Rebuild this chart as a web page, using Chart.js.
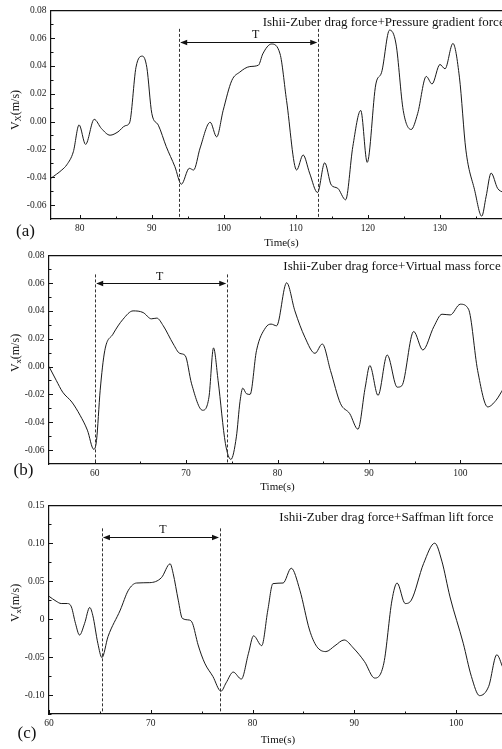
<!DOCTYPE html>
<html>
<head>
<meta charset="utf-8">
<script src="https://cdn.jsdelivr.net/npm/chart.js@4.4.1/dist/chart.umd.min.js"></script>
<style>
  html, body { margin: 0; padding: 0; background: #fff; }
  body { width: 502px; height: 749px; overflow: hidden; position: relative; }
  .panel { position: absolute; left: 0; width: 530px; height: 254px; }
  .panel canvas { display: block; }
</style>
</head>
<body>
<div class="panel" style="top:0px"><canvas id="chartA" width="530" height="254"></canvas></div>
<div class="panel" style="top:245px"><canvas id="chartB" width="530" height="254"></canvas></div>
<div class="panel" style="top:495px"><canvas id="chartC" width="530" height="254"></canvas></div>
<script>
// ---- data ----
// (a) Ishii-Zuber drag force + Pressure gradient force
const timeA = [76.0, 77.5, 78.2, 79.1, 79.9, 80.8, 82.0, 83.0, 84.2, 85.3, 86.3, 86.9, 87.8, 88.7, 89.3,
  90.0, 90.9, 92.0, 93.2, 94.1, 95.2, 95.8, 96.7, 98.1, 99.0, 99.9, 101.1, 102.2, 103.6, 104.8,
  105.4, 106.6, 107.8, 108.7, 110.1, 111.0, 111.9, 113.0, 114.0, 114.9, 115.8, 116.9, 117.9, 119.0,
  119.9, 121.1, 121.9, 123.0, 123.9, 124.9, 126.0, 126.9, 128.1, 128.9, 130.0, 130.7, 131.8, 132.7,
  133.6, 134.8, 135.8, 136.4, 137.1, 138.0, 138.8];
const velA = [-0.0407, -0.0348, -0.031, -0.0217, -0.0024, -0.0164, 0.0016, -0.005, -0.0098, -0.0074, -0.003, -0.001, 0.039, 0.047, 0.039,
  0.0057, -0.0026, -0.018, -0.0324, -0.045, -0.0336, -0.0348, -0.019, -0.0005, -0.011, 0.008, 0.0295, 0.0355, 0.0395, 0.0405,
  0.0486, 0.0557, 0.0486, 0.0152, -0.0348, -0.024, -0.037, -0.051, -0.0296, -0.0455, -0.0479, -0.0562, -0.018, 0.008,
  -0.0293, 0.027, 0.0354, 0.0657, 0.0557, 0.008, -0.0057, 0.0057, 0.0324, 0.027, 0.041, 0.0379, 0.0561, 0.0319,
  -0.0205, -0.049, -0.068, -0.054, -0.037, -0.048, -0.051];

// (b) Ishii-Zuber drag force + Virtual mass force
const timeB = [55.0, 55.8, 56.5, 57.5, 58.4, 59.2, 59.9, 60.2, 60.6, 61.1, 62.0, 63.1, 64.2, 65.3, 66.2,
  66.8, 67.5, 68.6, 69.3, 69.9, 70.6, 71.8, 72.5, 73.0, 73.5, 74.3, 74.9, 75.5, 75.9, 76.2, 76.6, 77.0,
  77.7, 78.7, 79.3, 79.9, 81.0, 81.9, 83.0, 84.1, 84.9, 85.8, 86.9, 87.9, 88.8, 89.6, 90.1, 91.0,
  92.0, 93.1, 93.6, 94.9, 95.9, 97.1, 98.0, 98.9, 100.0, 100.9, 101.9, 103.0, 103.9, 104.7];
const velB = [0.0, -0.01, -0.0184, -0.0255, -0.035, -0.0457, -0.0595, -0.053, -0.017, 0.0114, 0.0233, 0.034, 0.040, 0.0388, 0.0343,
  0.0348, 0.0293, 0.0162, 0.0095, 0.0079, -0.0124, -0.0314, -0.022, 0.0134, -0.01, -0.0552, -0.0667, -0.0505, -0.025, -0.0155, -0.0195, -0.020,
  0.0114, 0.028, 0.0305, 0.0293, 0.0602, 0.040, 0.021, 0.0095, 0.0162, -0.0029, -0.0267, -0.0338, -0.045, -0.0148, 0.0007, -0.0207,
  0.0083, -0.0148, -0.0138, 0.0252, 0.0119, 0.0286, 0.0376, 0.0371, 0.0448, 0.0412, -0.0029, -0.029, -0.0243, -0.016];

// (c) Ishii-Zuber drag force + Saffman lift force
const timeC = [60.0, 60.7, 61.2, 61.8, 62.2, 62.6, 63.0, 63.5, 64.0, 64.3, 64.8, 65.2, 65.8, 67.0, 67.8,
  68.6, 69.9, 71.05, 71.9, 72.2, 72.7, 73.1, 73.8, 74.1, 74.65, 75.3, 76.1, 76.9, 77.4, 78.1, 78.9,
  79.6, 80.1, 80.9, 81.5, 82.0, 83.0, 83.8, 84.65, 85.6, 86.3, 87.2, 88.1, 89.0, 89.9, 91.0, 92.0,
  92.9, 93.7, 94.2, 95.0, 95.6, 96.8, 97.9, 98.6, 99.4, 100.7, 101.5, 102.3, 103.2, 104.0, 104.6];
const velC = [0.030, 0.0236, 0.0205, 0.0205, 0.016, -0.0056, -0.021, -0.0056, 0.0153, 0.005, -0.032, -0.0507, -0.023, 0.0118, 0.038,
  0.0475, 0.048, 0.0546, 0.0728, 0.060, 0.0249, 0.001, -0.0013, -0.0056, -0.034, -0.058, -0.0755, -0.095, -0.084, -0.0698, -0.079,
  -0.045, -0.022, -0.035, 0.0118, 0.0467, 0.0475, 0.067, 0.038, -0.0144, -0.036, -0.0428, -0.035, -0.0275, -0.038, -0.056, -0.0777,
  -0.058, 0.025, 0.0475, 0.0205, 0.025, 0.073, 0.100, 0.0763, 0.0292, -0.0318, -0.0755, -0.1008, -0.0886, -0.047, -0.064];

// axis ticks
const xMajorA = [80, 90, 100, 110, 120, 130, 140];
const xMinorA = [85, 95, 105, 115, 125, 135];
const xMajorBC = [60, 70, 80, 90, 100];
const xMinorB = [65, 75, 85, 95];
const xMinorC = [65, 75, 85, 95];
const yMajorAB = [-0.06, -0.04, -0.02, 0.00, 0.02, 0.04, 0.06, 0.08];
const yMinorAB = [-0.05, -0.03, -0.01, 0.01, 0.03, 0.05, 0.07];
const yMajorC = [-0.10, -0.05, 0, 0.05, 0.10, 0.15];
const yLabelsC = ["-0.10", "-0.05", "0", "0.05", "0.10", "0.15"];
const yMinorC = [-0.125, -0.075, -0.025, 0.025, 0.075, 0.125];

// period markers: [left line, right line], arrow height, T label position
const periodA = [93.8, 113.1];
const periodB = [60.05, 74.5];
const periodC = [65.2, 76.8];

const SERIF = '"Liberation Serif", "Times New Roman", serif';

// extra decorations: frame, inward ticks, period markers and text
const decorPlugin = {
  id: "decor",
  afterDraw(chart, args, o) {
    const ctx = chart.ctx;
    const area = chart.chartArea;
    const xs = chart.scales.x;
    const ys = chart.scales.y;
    ctx.save();

    // top + right frame lines
    ctx.strokeStyle = "#111";
    ctx.lineWidth = 1.2;
    ctx.beginPath();
    ctx.moveTo(area.left, area.top + 0.5);
    ctx.lineTo(area.right, area.top + 0.5);
    ctx.lineTo(area.right, area.bottom);
    ctx.stroke();

    // inward ticks
    ctx.lineWidth = 1;
    const tickX = (vals, len) => vals.forEach((v) => {
      const px = Math.round(xs.getPixelForValue(v)) + 0.5;
      ctx.beginPath();
      ctx.moveTo(px, area.bottom);
      ctx.lineTo(px, area.bottom - len);
      ctx.stroke();
    });
    const tickY = (vals, len) => vals.forEach((v) => {
      const py = Math.round(ys.getPixelForValue(v)) + 0.5;
      ctx.beginPath();
      ctx.moveTo(area.left, py);
      ctx.lineTo(area.left + len, py);
      ctx.stroke();
    });
    tickX(o.xMajor, 4);
    tickX(o.xMinor, 2.5);
    tickY(o.yMajor, 4);
    tickY(o.yMinor, 2.5);

    // dashed period lines
    const x1 = xs.getPixelForValue(o.period[0]);
    const x2 = xs.getPixelForValue(o.period[1]);
    const yTop = ys.getPixelForValue(o.dashTop);
    ctx.strokeStyle = "#333";
    ctx.setLineDash([3, 2]);
    [x1, x2].forEach((px) => {
      ctx.beginPath();
      ctx.moveTo(Math.round(px) + 0.5, yTop);
      ctx.lineTo(Math.round(px) + 0.5, area.bottom);
      ctx.stroke();
    });
    ctx.setLineDash([]);

    // double arrow
    const ay = Math.round(ys.getPixelForValue(o.arrowY)) + 0.5;
    ctx.strokeStyle = "#111";
    ctx.fillStyle = "#111";
    ctx.beginPath();
    ctx.moveTo(x1 + 2, ay);
    ctx.lineTo(x2 - 2, ay);
    ctx.stroke();
    const head = (tipX, dir) => {
      ctx.beginPath();
      ctx.moveTo(tipX, ay);
      ctx.lineTo(tipX + dir * 7, ay - 2.8);
      ctx.lineTo(tipX + dir * 7, ay + 2.8);
      ctx.closePath();
      ctx.fill();
    };
    head(x1 + 1, 1);
    head(x2 - 1, -1);

    ctx.textBaseline = "middle";
    ctx.textAlign = "center";
    ctx.font = "12px " + SERIF;
    ctx.fillText("T", xs.getPixelForValue(o.tLabel[0]), ys.getPixelForValue(o.tLabel[1]));

    // panel title
    ctx.textAlign = "left";
    ctx.font = "13px " + SERIF;
    ctx.fillText(o.title, o.titlePos[0], o.titlePos[1]);

    // x axis title
    ctx.textAlign = "center";
    ctx.font = "11px " + SERIF;
    ctx.fillText("Time(s)", (area.left + xs.getPixelForValue(o.xMax)) / 2, o.xTitleY);

    // panel letter
    ctx.font = "17px " + SERIF;
    ctx.fillText(o.letter, o.letterPos[0], o.letterPos[1]);

    // y axis title with subscript
    ctx.translate(16, o.yTitleY);
    ctx.rotate(-Math.PI / 2);
    ctx.textAlign = "left";
    ctx.font = "12px " + SERIF;
    const wV = ctx.measureText("V").width;
    ctx.font = "8.5px " + SERIF;
    const wSub = ctx.measureText(o.sub).width;
    ctx.font = "12px " + SERIF;
    const wRest = ctx.measureText("(m/s)").width;
    let cx = -(wV + wSub + wRest) / 2;
    ctx.fillText("V", cx, 0);
    cx += wV;
    ctx.font = "8.5px " + SERIF;
    ctx.fillText(o.sub, cx, 3);
    cx += wSub;
    ctx.font = "12px " + SERIF;
    ctx.fillText("(m/s)", cx, 0);

    ctx.restore();
  },
};

function makePanel(id, cfg) {
  const points = cfg.time.map((t, i) => ({ x: t, y: cfg.vel[i] }));
  return new Chart(document.getElementById(id), {
    type: "line",
    data: {
      datasets: [{
        data: points,
        borderColor: "#1a1a1a",
        borderWidth: 1,
        pointRadius: 0,
        cubicInterpolationMode: "monotone",
        fill: false,
      }],
    },
    options: {
      responsive: false,
      animation: false,
      layout: { padding: { top: 9, left: 0, right: cfg.padRight, bottom: 0 } },
      plugins: {
        legend: { display: false },
        tooltip: { enabled: false },
        decor: cfg.decor,
      },
      scales: {
        x: {
          type: "linear",
          min: cfg.xMin,
          max: cfg.xMax,
          afterBuildTicks: (scale) => { scale.ticks = cfg.decor.xMajor.map((v) => ({ value: v })); },
          afterFit: (scale) => { scale.height = 35; },
          grid: { drawOnChartArea: false, drawTicks: false },
          border: { display: true, color: "#111", width: 1.2 },
          ticks: {
            padding: 3.5,
            color: "#222",
            maxRotation: 0,
            autoSkip: false,
            font: { family: SERIF, size: 9.5 },
            callback: (v) => String(v),
          },
        },
        y: {
          min: cfg.yMin,
          max: cfg.yMax,
          afterBuildTicks: (scale) => { scale.ticks = cfg.decor.yMajor.map((v) => ({ value: v })); },
          afterFit: (scale) => { scale.width = cfg.left; },
          grid: { drawOnChartArea: false, drawTicks: false },
          border: { display: true, color: "#111", width: 1.2 },
          ticks: {
            padding: 4.5,
            color: "#222",
            autoSkip: false,
            font: { family: SERIF, size: 9.5 },
            callback: cfg.yLabel,
          },
        },
      },
    },
    plugins: [decorPlugin],
  });
}

makePanel("chartA", {
  time: timeA, vel: velA, xMin: 76, xMax: 140, yMin: -0.07, yMax: 0.08, left: 51, padRight: 18,
  yLabel: (v) => v.toFixed(2),
  decor: {
    xMajor: xMajorA, xMinor: xMinorA, yMajor: yMajorAB, yMinor: yMinorAB, xMax: 140,
    period: periodA, dashTop: 0.0666, arrowY: 0.0574, tLabel: [104.4, 0.0621],
    title: "Ishii-Zuber drag force+Pressure gradient force", titlePos: [262.7, 23],
    xTitleY: 243, letter: "(a)", letterPos: [25.5, 232], sub: "X", yTitleY: 110,
  },
});

makePanel("chartB", {
  time: timeB, vel: velB, xMin: 55, xMax: 105, yMin: -0.07, yMax: 0.08, left: 49, padRight: 24,
  yLabel: (v) => v.toFixed(2),
  decor: {
    xMajor: xMajorBC, xMinor: xMinorB, yMajor: yMajorAB, yMinor: yMinorAB, xMax: 105,
    period: periodB, dashTop: 0.0662, arrowY: 0.06, tLabel: [67.1, 0.0643],
    title: "Ishii-Zuber drag force+Virtual mass force", titlePos: [283.3, 21.7],
    xTitleY: 242, letter: "(b)", letterPos: [23.5, 225.5], sub: "x", yTitleY: 108,
  },
});

makePanel("chartC", {
  time: timeC, vel: velC, xMin: 60, xMax: 105, yMin: -0.125, yMax: 0.15, left: 49, padRight: 23,
  yLabel: (v) => {
    const i = yMajorC.findIndex((m) => Math.abs(m - v) < 1e-9);
    return i >= 0 ? yLabelsC[i] : "";
  },
  decor: {
    xMajor: xMajorBC, xMinor: xMinorC, yMajor: yMajorC, yMinor: yMinorC, xMax: 105,
    period: periodC, dashTop: 0.1195, arrowY: 0.1076, tLabel: [71.2, 0.118],
    title: "Ishii-Zuber drag force+Saffman lift force", titlePos: [279.3, 22.3],
    xTitleY: 245, letter: "(c)", letterPos: [27, 239], sub: "x", yTitleY: 108,
  },
});
</script>
</body>
</html>
